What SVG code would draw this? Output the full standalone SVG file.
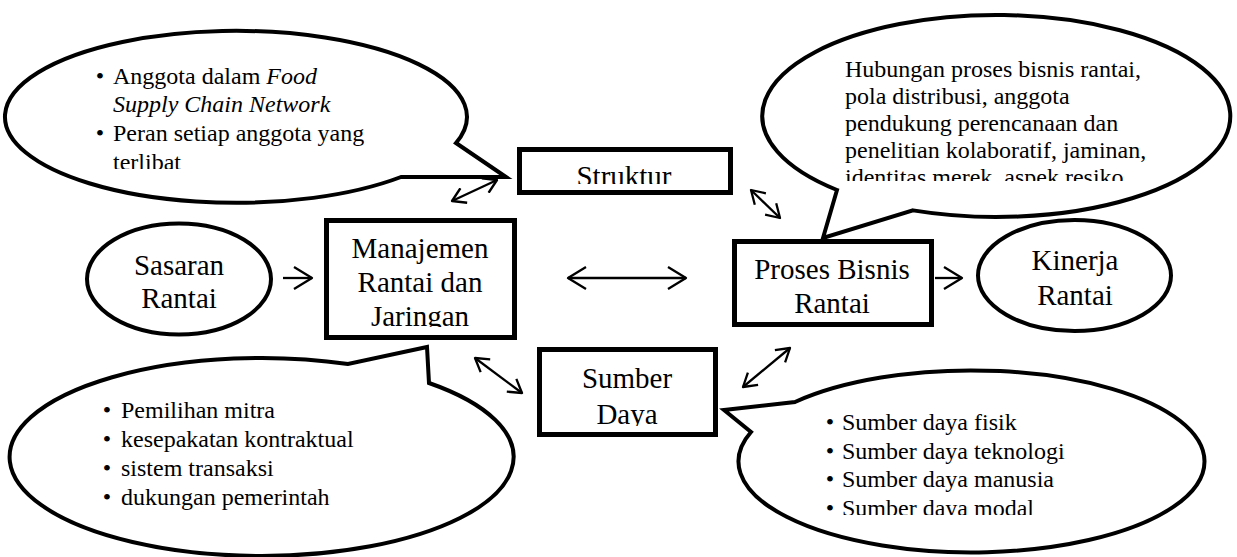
<svg xmlns="http://www.w3.org/2000/svg" width="1237" height="557" viewBox="0 0 1237 557">
<style>
.co{fill:#fff;stroke:#000;stroke-width:4;stroke-linejoin:miter}
.bx{fill:#fff;stroke:#000;stroke-width:5}
.el{fill:#fff;stroke:#000;stroke-width:4}
.nt{font-family:"Liberation Serif","Times New Roman",serif;font-size:29px;fill:#000;text-anchor:middle}
.ct{font-family:"Liberation Serif","Times New Roman",serif;font-size:24px;fill:#000}
.bu{text-anchor:middle}
.it{font-style:italic}
.ar{fill:none;stroke:#000;stroke-width:2.3}
</style>
<defs>
<marker id="hb" markerUnits="userSpaceOnUse" viewBox="0 0 21 24" markerWidth="21" markerHeight="24" refX="19" refY="12" orient="auto-start-reverse">
<path d="M1,1 L19,12 L1,23" fill="none" stroke="#000" stroke-width="2.3" stroke-linejoin="round"/>
</marker>
<marker id="hs" markerUnits="userSpaceOnUse" viewBox="0 0 16 18" markerWidth="16" markerHeight="18" refX="14" refY="9" orient="auto-start-reverse">
<path d="M1,1 L14,9 L1,17" fill="none" stroke="#000" stroke-width="2.3" stroke-linejoin="round"/>
</marker>
<clipPath id="cTL"><rect x="0" y="30" width="520" height="139"/></clipPath>
<clipPath id="cTR"><rect x="760" y="10" width="477" height="171"/></clipPath>
<clipPath id="cBR"><rect x="740" y="380" width="497" height="135"/></clipPath>
<clipPath id="cST"><rect x="520" y="150" width="210" height="34"/></clipPath>
<clipPath id="cMJ"><rect x="327" y="221" width="187" height="106"/></clipPath>
<clipPath id="cSD"><rect x="540" y="350" width="175" height="76"/></clipPath>
</defs>

<g id="callout-struktur">
<path class="co" d="M506,177 L401,177 A231,86 0 1 1 456,143 Z"/>
<g clip-path="url(#cTL)">
<text class="ct bu" x="100" y="84">•</text>
<text class="ct" x="113" y="84">Anggota dalam <tspan class="it">Food</tspan></text>
<text class="ct it" x="113" y="112">Supply Chain Network</text>
<text class="ct bu" x="100" y="141">•</text>
<text class="ct" x="113" y="141">Peran setiap anggota yang</text>
<text class="ct" x="113" y="170">terlibat</text>
</g>
</g>

<g id="callout-proses">
<path class="co" d="M823,238 L837,190 A234,101 0 1 1 913,210.4 Z"/>
<g clip-path="url(#cTR)">
<text class="ct" x="845" y="77">Hubungan proses bisnis rantai,</text>
<text class="ct" x="845" y="104">pola distribusi, anggota</text>
<text class="ct" x="845" y="131">pendukung perencanaan dan</text>
<text class="ct" x="845" y="158">penelitian kolaboratif, jaminan,</text>
<text class="ct" x="845" y="185">identitas merek, aspek resiko</text>
</g>
</g>

<g id="callout-manajemen">
<path class="co" d="M427,347 L429,383 A252,99 0 1 1 348,364 Z"/>
<text class="ct bu" x="107" y="418">•</text>
<text class="ct" x="121" y="418">Pemilihan mitra</text>
<text class="ct bu" x="107" y="447">•</text>
<text class="ct" x="121" y="447">kesepakatan kontraktual</text>
<text class="ct bu" x="107" y="476">•</text>
<text class="ct" x="121" y="476">sistem transaksi</text>
<text class="ct bu" x="107" y="505">•</text>
<text class="ct" x="121" y="505">dukungan pemerintah</text>
</g>

<g id="callout-sumber">
<path class="co" d="M724,410 L795,402 A233,91 0 1 1 751,432 Z"/>
<g clip-path="url(#cBR)">
<text class="ct bu" x="830" y="430">•</text>
<text class="ct" x="842" y="430">Sumber daya fisik</text>
<text class="ct bu" x="830" y="458.5">•</text>
<text class="ct" x="842" y="458.5">Sumber daya teknologi</text>
<text class="ct bu" x="830" y="487">•</text>
<text class="ct" x="842" y="487">Sumber daya manusia</text>
<text class="ct bu" x="830" y="516">•</text>
<text class="ct" x="842" y="516">Sumber daya modal</text>
</g>
</g>

<g id="sasaran">
<ellipse class="el" cx="179" cy="279" rx="92" ry="55.5"/>
<text class="nt" x="179" y="275">Sasaran</text>
<text class="nt" x="179" y="308">Rantai</text>
</g>

<g id="manajemen">
<rect class="bx" x="326.5" y="220.5" width="188" height="117"/>
<g clip-path="url(#cMJ)">
<text class="nt" x="420" y="258">Manajemen</text>
<text class="nt" x="420" y="292">Rantai dan</text>
<text class="nt" x="420" y="326">Jaringan</text>
</g>
</g>

<g id="struktur">
<rect class="bx" x="519.5" y="149.5" width="211" height="43"/>
<g clip-path="url(#cST)">
<text class="nt" x="624" y="186">Struktur</text>
</g>
</g>

<g id="proses">
<rect class="bx" x="734.5" y="241.5" width="197" height="83"/>
<text class="nt" x="832" y="279">Proses Bisnis</text>
<text class="nt" x="832" y="313">Rantai</text>
</g>

<g id="kinerja">
<ellipse class="el" cx="1074.5" cy="275.5" rx="96.5" ry="55.5"/>
<text class="nt" x="1075" y="270">Kinerja</text>
<text class="nt" x="1075" y="305">Rantai</text>
</g>

<g id="sumber">
<rect class="bx" x="539.5" y="349.5" width="176" height="85"/>
<g clip-path="url(#cSD)">
<text class="nt" x="627" y="388">Sumber</text>
<text class="nt" x="627" y="424">Daya</text>
</g>
</g>

<g id="connectors">
<line class="ar" x1="283" y1="278" x2="312" y2="278" marker-end="url(#hb)"/>
<line class="ar" x1="568" y1="278" x2="686" y2="278" marker-start="url(#hb)" marker-end="url(#hb)"/>
<line class="ar" x1="935" y1="278" x2="962" y2="278" marker-end="url(#hb)"/>
<line class="ar" x1="452" y1="201" x2="497" y2="180" marker-start="url(#hs)" marker-end="url(#hs)"/>
<line class="ar" x1="751" y1="190" x2="780" y2="218" marker-start="url(#hs)" marker-end="url(#hs)"/>
<line class="ar" x1="475" y1="358" x2="522" y2="393" marker-start="url(#hs)" marker-end="url(#hs)"/>
<line class="ar" x1="743" y1="387" x2="790" y2="348" marker-start="url(#hs)" marker-end="url(#hs)"/>
</g>
</svg>
